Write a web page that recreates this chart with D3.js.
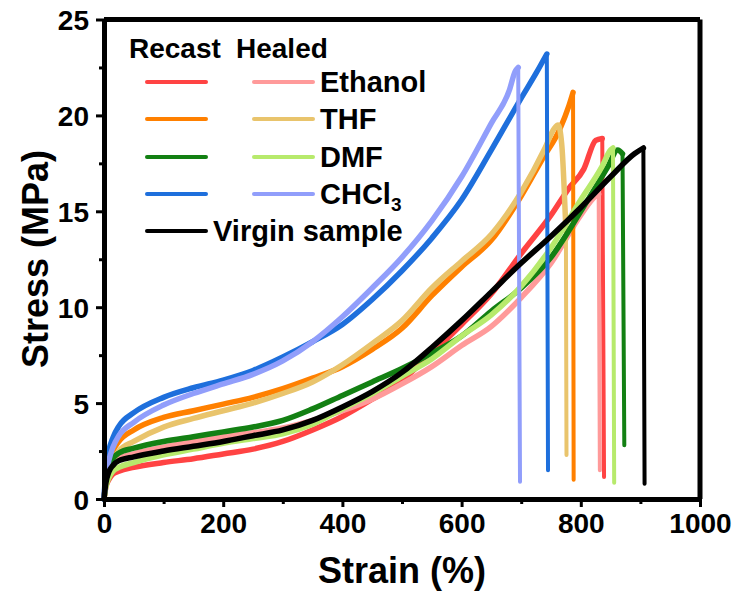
<!DOCTYPE html>
<html>
<head>
<meta charset="utf-8">
<script src="https://cdn.jsdelivr.net/npm/d3@7"></script>
<style>
  body { margin: 0; background: #fff; }
  text { font-family: "Liberation Sans", Arial, sans-serif; font-weight: bold; fill: #000; }
</style>
</head>
<body>
<svg width="739" height="598"></svg>
<script>
// strain (%) , stress (MPa); last point = foot of the break line
var ethanolRecast = [[0,0],[3,0.6],[8,1.0],[15,1.3],[25,1.45],[50,1.65],[100,1.9],[150,2.1],[200,2.35],[250,2.6],[300,3.0],[350,3.6],[400,4.3],[450,5.2],[500,6.2],[550,7.6],[600,9.1],[650,10.7],[700,12.8],[750,14.8],[780,16.2],[805,17.2],[825,18.7],[836,18.8],[839,1.15]];
var ethanolHealed = [[0,0],[3,0.8],[8,1.4],[15,1.8],[25,2.1],[50,2.35],[100,2.7],[150,3.0],[200,3.25],[250,3.45],[300,3.7],[350,4.1],[400,4.6],[450,5.2],[500,6.0],[550,6.9],[600,8.0],[650,9.0],[700,10.5],[750,12.3],[800,14.8],[825,15.8],[830,15.9],[832,1.5]];
var thfRecast = [[0,0],[3,1.0],[8,1.8],[15,2.5],[25,3.0],[50,3.6],[100,4.25],[150,4.6],[200,4.95],[250,5.3],[300,5.75],[350,6.3],[400,6.9],[450,7.8],[500,8.9],[550,10.6],[600,12.1],[650,13.5],[700,15.8],[735,17.7],[765,19.3],[780,20.5],[787,21.2],[788,1.0]];
var thfHealed = [[0,0],[3,0.8],[8,1.4],[15,2.0],[25,2.5],[50,3.0],[100,3.75],[150,4.2],[200,4.6],[250,5.0],[300,5.5],[350,6.1],[400,7.0],[450,8.1],[500,9.3],[550,11.0],[600,12.4],[650,13.8],[700,16.0],[740,18.3],[755,19.3],[762,19.5],[768,18.5],[775,14.0],[776,2.3]];
var dmfRecast = [[0,0],[3,0.9],[8,1.6],[15,2.1],[25,2.4],[50,2.65],[100,3.0],[150,3.25],[200,3.5],[250,3.75],[300,4.1],[350,4.7],[400,5.4],[450,6.1],[500,6.8],[550,7.6],[600,8.5],[650,9.8],[700,11.0],[750,12.6],[800,15.0],[845,17.3],[862,18.2],[870,18.0],[873,2.8]];
var dmfHealed = [[0,0],[3,0.6],[8,1.1],[15,1.45],[25,1.65],[50,1.9],[100,2.3],[150,2.6],[200,2.9],[250,3.15],[300,3.4],[350,3.9],[400,4.7],[450,5.5],[500,6.4],[550,7.3],[600,8.5],[650,9.6],[700,11.1],[750,13.1],[800,15.6],[835,17.3],[850,18.2],[854,18.3],[856,0.85]];
var chcl3Recast = [[0,0],[3,1.5],[8,2.5],[15,3.2],[25,3.8],[50,4.5],[100,5.3],[150,5.8],[200,6.2],[250,6.7],[300,7.4],[350,8.2],[400,9.1],[450,10.4],[500,11.9],[550,13.6],[600,15.6],[650,18.2],[700,20.9],[725,22.2],[743,23.2],[745,1.5]];
var chcl3Healed = [[0,0],[3,1.2],[8,2.0],[15,2.7],[25,3.3],[50,4.0],[100,4.9],[150,5.5],[200,6.0],[250,6.5],[300,7.2],[350,8.2],[400,9.5],[450,11.0],[500,12.6],[550,14.5],[600,16.8],[650,19.6],[680,21.3],[690,22.3],[695,22.5],[698,0.9]];
var virgin = [[0,0],[3,0.8],[8,1.4],[15,1.75],[25,2.0],[50,2.2],[100,2.5],[150,2.75],[200,3.0],[250,3.3],[300,3.6],[350,4.1],[400,4.8],[450,5.6],[500,6.6],[550,7.9],[600,9.3],[650,10.8],[700,12.3],[750,13.7],[800,15.2],[850,16.8],[890,18.0],[905,18.3],[907,0.8]];

var solvents = ["Ethanol", "THF", "DMF", "CHCl3"];
var recastColors = ["#ff4343", "#ff8000", "#138013", "#1e6fdc"];
var healedColors = ["#ff9a9a", "#e9c46c", "#b7ea6c", "#919efb"];
var xTicks = [0, 200, 400, 600, 800, 1000];
var yTicks = [0, 5, 10, 15, 20, 25];

var series = [
  {data: ethanolRecast, color: recastColors[0]},
  {data: ethanolHealed, color: healedColors[0]},
  {data: thfRecast, color: recastColors[1]},
  {data: thfHealed, color: healedColors[1]},
  {data: dmfRecast, color: recastColors[2]},
  {data: dmfHealed, color: healedColors[2]},
  {data: chcl3Recast, color: recastColors[3]},
  {data: chcl3Healed, color: healedColors[3]},
  {data: virgin, color: "#000"}
];

var svg = d3.select("svg");
var x = d3.scaleLinear().domain([0, 1000]).range([104, 700]);
var y = d3.scaleLinear().domain([0, 25]).range([499, 19.5]);

// curves: loading part smooth and thick, break part a thinner straight drop
var curve = d3.line().curve(d3.curveMonotoneX).x(function (d) { return x(d[0]); }).y(function (d) { return y(d[1]); });
var straight = d3.line().x(function (d) { return x(d[0]); }).y(function (d) { return y(d[1]); });
var g = svg.append("g");
series.forEach(function (s) {
  var n = s.data.length;
  g.append("path").attr("d", straight(s.data.slice(n - 2)))
    .attr("fill", "none").attr("stroke", s.color).attr("stroke-width", 4)
    .attr("stroke-linecap", "round");
  g.append("path").attr("d", curve(s.data.slice(0, n - 1)))
    .attr("fill", "none").attr("stroke", s.color).attr("stroke-width", 5.5)
    .attr("stroke-linejoin", "round").attr("stroke-linecap", "round");
});

// frame
svg.append("line").attr("x1", 104).attr("x2", 700).attr("y1", 19.5).attr("y2", 19.5).attr("stroke", "#000").attr("stroke-width", 5);
svg.append("line").attr("x1", 700).attr("x2", 700).attr("y1", 19.5).attr("y2", 499).attr("stroke", "#000").attr("stroke-width", 5);

// axes
var xAxis = svg.append("g").attr("transform", "translate(0,499)")
  .call(d3.axisBottom(x).tickValues(xTicks).tickFormat(d3.format("d")).tickSize(8).tickPadding(6).tickSizeOuter(0));
var xMinor = svg.append("g").attr("transform", "translate(0,499)")
  .call(d3.axisBottom(x).tickValues([100, 300, 500, 700, 900]).tickSize(5).tickFormat("").tickSizeOuter(0));
var yAxis = svg.append("g").attr("transform", "translate(104,0)")
  .call(d3.axisLeft(y).tickValues(yTicks).tickFormat(d3.format("d")).tickSize(8).tickPadding(7).tickSizeOuter(0));
var yMinor = svg.append("g").attr("transform", "translate(104,0)")
  .call(d3.axisLeft(y).tickValues([2.5, 7.5, 12.5, 17.5, 22.5]).tickSize(5).tickFormat("").tickSizeOuter(0));

svg.selectAll(".domain").attr("stroke-width", 5).attr("stroke", "#000");
svg.selectAll(".tick line").attr("stroke-width", 3).attr("stroke", "#000");
svg.selectAll(".tick text").style("font-size", "28px").style("font-family", "'Liberation Sans', Arial, sans-serif").style("font-weight", "bold").attr("fill", "#000");
yAxis.selectAll(".tick text").attr("dy", "0.36em");

svg.append("text").attr("x", 402).attr("y", 583).attr("text-anchor", "middle").style("font-size", "36px").text("Strain (%)");
svg.append("text").attr("transform", "translate(48,259) rotate(-90)").attr("text-anchor", "middle").style("font-size", "36px").text("Stress (MPa)");

// legend
var leg = svg.append("g");
leg.append("text").attr("x", 129).attr("y", 58).style("font-size", "28px").text("Recast");
leg.append("text").attr("x", 236).attr("y", 58).style("font-size", "28px").text("Healed");
var rowY = [82, 119, 157, 194];
solvents.forEach(function (s, i) {
  leg.append("line").attr("x1", 147).attr("x2", 206).attr("y1", rowY[i]).attr("y2", rowY[i])
    .attr("stroke", recastColors[i]).attr("stroke-width", 4).attr("stroke-linecap", "round");
  leg.append("line").attr("x1", 254).attr("x2", 313).attr("y1", rowY[i]).attr("y2", rowY[i])
    .attr("stroke", healedColors[i]).attr("stroke-width", 4).attr("stroke-linecap", "round");
  var t = leg.append("text").attr("x", 320).attr("y", rowY[i] + 10).style("font-size", "29px");
  if (s === "CHCl3") {
    t.append("tspan").text("CHCl");
    t.append("tspan").attr("dy", 7).style("font-size", "19px").text("3");
  } else {
    t.text(s);
  }
});
leg.append("line").attr("x1", 147).attr("x2", 206).attr("y1", 231).attr("y2", 231)
  .attr("stroke", "#000").attr("stroke-width", 4).attr("stroke-linecap", "round");
leg.append("text").attr("x", 213).attr("y", 241).style("font-size", "29px").text("Virgin sample");
</script>
</body>
</html>
